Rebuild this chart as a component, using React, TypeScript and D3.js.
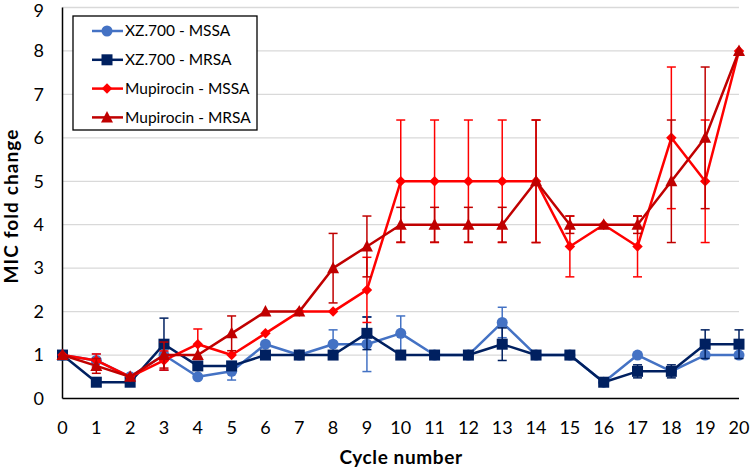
import React from "react";
import * as d3 from "d3";

const cycles = [0, 1, 2, 3, 4, 5, 6, 7, 8, 9, 10, 11, 12, 13, 14, 15, 16, 17, 18, 19, 20];
const yTicks = [0, 1, 2, 3, 4, 5, 6, 7, 8, 9];

const xzMssa = [1, 0.875, 0.5, 1, 0.5, 0.625, 1.25, 1, 1.25, 1.25, 1.5, 1, 1, 1.75, 1, 1, 0.375, 1, 0.625, 1, 1];
const xzMssaErr = [0, 0.15, 0, 0, 0, 0.2, 0, 0, 0.33, 0.63, 0.4, 0, 0, 0.35, 0, 0, 0, 0, 0, 0, 0];
const xzMrsa = [1, 0.375, 0.375, 1.25, 0.75, 0.75, 1, 1, 1, 1.5, 1, 1, 1, 1.25, 1, 1, 0.375, 0.625, 0.625, 1.25, 1.25];
const xzMrsaErr = [0, 0, 0, 0.6, 0, 0, 0, 0, 0, 0.375, 0, 0, 0, 0.375, 0, 0, 0, 0.15, 0.15, 0.33, 0.33];
const mupMssa = [1, 0.875, 0.5, 0.875, 1.25, 1, 1.5, 2, 2, 2.5, 5, 5, 5, 5, 5, 3.5, 4, 3.5, 6, 5, 8];
const mupMssaErr = [0, 0.15, 0, 0.22, 0.35, 0, 0, 0, 0, 0.75, 1.41, 1.41, 1.41, 1.41, 1.41, 0.7, 0, 0.7, 1.63, 1.41, 0];
const mupMrsa = [1, 0.75, 0.5, 1, 1, 1.5, 2, 2, 3, 3.5, 4, 4, 4, 4, 5, 4, 4, 4, 5, 6, 8];
const mupMrsaErr = [0, 0.17, 0, 0.3, 0, 0.4, 0, 0, 0.8, 0.7, 0.4, 0.4, 0.4, 0.4, 1.41, 0.2, 0, 0.2, 1.41, 1.63, 0];

const seriesNames = ["XZ.700 - MSSA", "XZ.700 - MRSA", "Mupirocin - MSSA", "Mupirocin - MRSA"];

type Series = { name: string; values: number[]; errs: number[]; color: string; marker: string };

const series: Series[] = [
  { name: seriesNames[0], values: xzMssa, errs: xzMssaErr, color: "#4472C4", marker: "circle" },
  { name: seriesNames[1], values: xzMrsa, errs: xzMrsaErr, color: "#002060", marker: "square" },
  { name: seriesNames[2], values: mupMssa, errs: mupMssaErr, color: "#FF0000", marker: "diamond" },
  { name: seriesNames[3], values: mupMrsa, errs: mupMrsaErr, color: "#C00000", marker: "triangle" },
];

const W = 750;
const H = 469;
const plot = { left: 62.5, right: 739, top: 7.5, bottom: 398.5 };
const FONT = "Lato, 'Open Sans', sans-serif";

function Marker({ type, x, y, color }: { type: string; x: number; y: number; color: string }) {
  if (type === "circle") return <circle cx={x} cy={y} r={5.5} fill={color} />;
  if (type === "square") return <rect x={x - 5.5} y={y - 5.5} width={11} height={11} fill={color} />;
  if (type === "diamond")
    return <path d={d3.symbol(d3.symbolDiamond2, 70)()!} transform={`translate(${x},${y})`} fill={color} />;
  return <path d={`M${x},${y - 6.5}L${x + 6},${y + 5}L${x - 6},${y + 5}Z`} fill={color} />;
}

export default function App() {
  const x = d3.scalePoint<number>().domain(cycles).range([plot.left, plot.right]);
  const y = d3.scaleLinear().domain([0, 9]).range([plot.bottom, plot.top]);
  const line = d3
    .line<number>()
    .x((_, i) => x(cycles[i])!)
    .y((d) => y(d));

  return (
    <svg width={W} height={H} style={{ position: "absolute", left: 0, top: 0, background: "#fff" }}>
      {/* gridlines */}
      {yTicks.filter((t) => t > 0).map((t) => (
        <line key={t} x1={plot.left} x2={plot.right} y1={y(t)} y2={y(t)} stroke="#d9d9d9" strokeWidth={1.3} />
      ))}
      {/* axes */}
      <line x1={plot.left} x2={plot.right} y1={y(0)} y2={y(0)} stroke="#000" strokeWidth={1.5} />
      <line x1={plot.left} x2={plot.left} y1={y(9)} y2={y(0)} stroke="#000" strokeWidth={1.5} />
      {/* y tick labels */}
      {yTicks.map((t) => (
        <text key={t} x={44} y={Math.max(y(t), 11)} dy="0.35em" textAnchor="end" fontFamily={FONT} fontSize={18} fill="#000">
          {t}
        </text>
      ))}
      {/* x tick labels */}
      {cycles.map((c) => (
        <text key={c} x={x(c)!} y={428} dy="0.35em" textAnchor="middle" fontFamily={FONT} fontSize={18} fill="#000">
          {c}
        </text>
      ))}
      <text
        x={401}
        y={457.5}
        dy="0.35em"
        textAnchor="middle"
        fontFamily={FONT}
        fontSize={19}
        fontWeight="bold"
        letterSpacing={0.6}
      >
        Cycle number
      </text>
      <text
        transform={`translate(11.5,206) rotate(-90)`}
        dy="0.35em"
        textAnchor="middle"
        fontFamily={FONT}
        fontSize={19}
        fontWeight="bold"
        letterSpacing={1.1}
      >
        MIC fold change
      </text>
      {/* series */}
      {series.map((s) => (
        <g key={s.name}>
          <path d={line(s.values)!} fill="none" stroke={s.color} strokeWidth={2.5} strokeLinejoin="round" />
          {s.values.map((v, i) =>
            s.errs[i] > 0 ? (
              <g key={i} stroke={s.color} strokeWidth={1.5}>
                <line x1={x(cycles[i])!} x2={x(cycles[i])!} y1={y(v - s.errs[i])} y2={y(v + s.errs[i])} />
                <line x1={x(cycles[i])! - 4.5} x2={x(cycles[i])! + 4.5} y1={y(v + s.errs[i])} y2={y(v + s.errs[i])} />
                <line x1={x(cycles[i])! - 4.5} x2={x(cycles[i])! + 4.5} y1={y(v - s.errs[i])} y2={y(v - s.errs[i])} />
              </g>
            ) : null
          )}
          {s.values.map((v, i) => (
            <Marker key={i} type={s.marker} x={x(cycles[i])!} y={y(v)} color={s.color} />
          ))}
        </g>
      ))}
      {/* legend */}
      <rect x={73} y={16} width={184} height={114} fill="#fff" stroke="#000" strokeWidth={1.3} />
      {series.map((s, i) => {
        const ly = 31 + i * 28.8;
        return (
          <g key={s.name}>
            <line x1={92} x2={123} y1={ly} y2={ly} stroke={s.color} strokeWidth={2.5} />
            <Marker type={s.marker} x={107} y={ly} color={s.color} />
            <text x={125} y={ly} dy="0.35em" fontFamily={FONT} fontSize={15.5} fill="#000">
              {s.name}
            </text>
          </g>
        );
      })}
    </svg>
  );
}
